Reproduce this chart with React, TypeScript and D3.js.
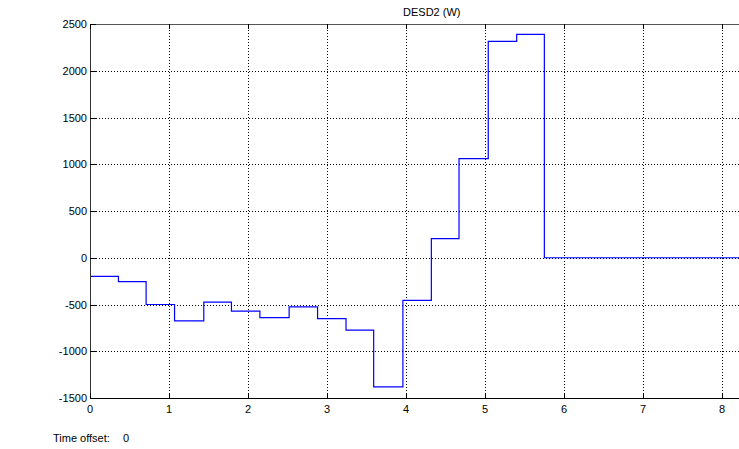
import React, { useEffect, useRef } from "react";
import * as d3 from "d3";

// scope trace DESD2 (W), held values (zero-order hold)
const stepTimes = [0, 0.36, 0.71, 1.07, 1.44, 1.79, 2.15, 2.52, 2.88, 3.24, 3.59, 3.96, 4.32, 4.67, 5.04, 5.4, 5.75, 8.65];
const power = [-200, -255, -500, -675, -475, -570, -640, -525, -650, -775, -1380, -455, 205, 1060, 2315, 2390, 0, 0];
const xTicks = [0, 1, 2, 3, 4, 5, 6, 7, 8];
const yTicks = [-1500, -1000, -500, 0, 500, 1000, 1500, 2000, 2500];

const width = 739, height = 449;
const FONT = "'Liberation Sans', Arial, sans-serif";

export default function App() {
  const ref = useRef<SVGSVGElement>(null);

  useEffect(() => {
    const svg = d3.select(ref.current);
    svg.selectAll("*").remove();

    const x = d3.scaleLinear().domain([0, 8.65]).range([90, 773.5]);
    const y = d3.scaleLinear().domain([-1500, 2500]).range([398, 24]);
    const left = x(0), right = x(8.65), top = y(2500), bottom = y(-1500);

    svg.append("rect").attr("width", width).attr("height", height).attr("fill", "#fff");

    // grid
    const grid = svg.append("g").attr("stroke", "#000").attr("stroke-dasharray", "1,2").attr("shape-rendering", "crispEdges");
    grid.selectAll(".gx").data(xTicks.slice(1)).join("line")
      .attr("x1", d => Math.round(x(d)) + 0.5).attr("x2", d => Math.round(x(d)) + 0.5)
      .attr("y1", top).attr("y2", bottom);
    grid.selectAll(".gy").data(yTicks.slice(1, -1)).join("line")
      .attr("y1", d => Math.round(y(d)) + 0.5).attr("y2", d => Math.round(y(d)) + 0.5)
      .attr("x1", left).attr("x2", right);

    // trace
    const line = d3.line<number>()
      .x((_, i) => x(stepTimes[i]))
      .y(d => y(d))
      .curve(d3.curveStepAfter);
    svg.append("path").datum(power)
      .attr("d", line)
      .attr("fill", "none").attr("stroke", "#0000ff").attr("stroke-width", 1.2);

    // axes box
    const ax = svg.append("g").attr("stroke", "#000").attr("shape-rendering", "crispEdges");
    ax.append("line").attr("x1", left).attr("x2", right).attr("y1", Math.round(bottom) + 0.5).attr("y2", Math.round(bottom) + 0.5);
    ax.append("line").attr("x1", left).attr("x2", right).attr("y1", Math.round(top) + 0.5).attr("y2", Math.round(top) + 0.5).attr("stroke", "#555");
    ax.append("line").attr("x1", Math.round(left) + 0.5).attr("x2", Math.round(left) + 0.5).attr("y1", top).attr("y2", bottom).attr("stroke", "#333");

    ax.selectAll(".tb").data(xTicks).join("line")
      .attr("x1", d => Math.round(x(d)) + 0.5).attr("x2", d => Math.round(x(d)) + 0.5)
      .attr("y1", bottom).attr("y2", bottom - 5);
    ax.selectAll(".tt").data(xTicks).join("line")
      .attr("x1", d => Math.round(x(d)) + 0.5).attr("x2", d => Math.round(x(d)) + 0.5)
      .attr("y1", top).attr("y2", top + 5);
    ax.selectAll(".tl").data(yTicks).join("line")
      .attr("y1", d => Math.round(y(d)) + 0.5).attr("y2", d => Math.round(y(d)) + 0.5)
      .attr("x1", left).attr("x2", left + 6);

    // labels
    svg.append("g").selectAll("text").data(xTicks).join("text")
      .attr("x", d => x(d)).attr("y", bottom + 15)
      .attr("text-anchor", "middle").attr("font-family", FONT).attr("font-size", 11)
      .text(d => d);
    svg.append("g").selectAll("text").data(yTicks).join("text")
      .attr("x", left - 3).attr("y", d => y(d) + 4)
      .attr("text-anchor", "end").attr("font-family", FONT).attr("font-size", 11)
      .text(d => d);

    svg.append("text").attr("x", (left + right) / 2).attr("y", 16)
      .attr("text-anchor", "middle").attr("font-family", FONT).attr("font-size", 11)
      .text("DESD2 (W)");

    svg.append("text").attr("x", 53).attr("y", 442)
      .attr("font-family", FONT).attr("font-size", 11)
      .text("Time offset:");
    svg.append("text").attr("x", 123).attr("y", 442)
      .attr("font-family", FONT).attr("font-size", 11)
      .text("0");
  }, []);

  return (
    <svg ref={ref} width={width} height={height}
      style={{ position: "absolute", left: 0, top: 0, overflow: "hidden" }} />
  );
}
